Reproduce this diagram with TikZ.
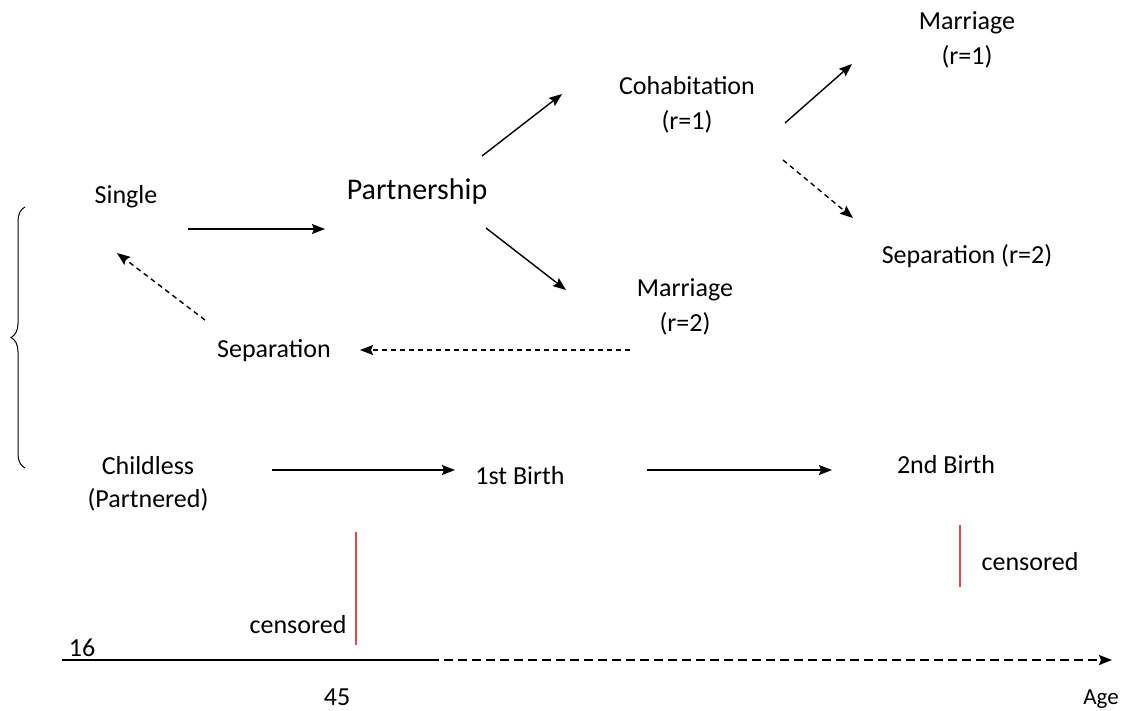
\documentclass[tikz,border=0pt]{standalone}
\usepackage{fontspec}
\setmainfont{Carlito}
\usetikzlibrary{arrows.meta,decorations.pathreplacing}
\definecolor{censred}{RGB}{214,80,80}
\begin{document}
\begin{tikzpicture}[x=1pt, y=-1pt,
		lbl/.style={inner sep=0pt, align=center, font=\fontsize{26}{35}\selectfont},
		arr/.style={line width=1.4pt, -{Stealth[length=13pt,width=10pt,inset=2pt]}},
		darr/.style={arr, dash pattern=on 5pt off 4pt},
		cens/.style={censred, line width=1.2pt}]
		\useasboundingbox (0,0) rectangle (1126,710);
		%States of the partnership history
		\node[lbl] (Single) at (126,197) {Single};
		\node[lbl, font=\fontsize{30}{36}\selectfont] (Partner) at (417,191) {Partnership};
		\node[lbl] (Cohab) at (687,105) {Cohabitation\\(r=1)};
		\node[lbl] (Marr1) at (967,40) {Marriage\\(r=1)};
		\node[lbl] (Sep2) at (967,256) {Separation (r=2)};
		\node[lbl] (Marr2) at (685,307) {Marriage\\(r=2)};
		\node[lbl] (Sep) at (274,351) {Separation};
		%Fertility history
		\node[lbl, font=\fontsize{26}{33}\selectfont] (Child0) at (148,484) {Childless\\(Partnered)};
		\node[lbl] (Birth1) at (520,476) {1st Birth};
		\node[lbl] (Birth2) at (946,465) {2nd Birth};
		%Time axis
		\node[lbl] (C45) at (298,625) {censored};
		\node[lbl] (Cend) at (1030,562) {censored};
		\node[lbl] (A16) at (82,648) {16};
		\node[lbl] (A45) at (337,697) {45};
		\node[lbl, font=\fontsize{23}{28}\selectfont] (Age) at (1101,699) {Age};
		\coordinate (AxStart) at (62,660);
		\coordinate (AxMid) at (430,660);
		\coordinate (AxEnd) at (1112,660);
		\coordinate (BrTop) at (25,207);
		\coordinate (BrBot) at (25,468);
		%Transitions
		\draw[arr] ([xshift=62pt,yshift=-32pt]Single.center) -- ([xshift=-92pt,yshift=-38pt]Partner.center);
		\draw[arr] ([xshift=65pt,yshift=35pt]Partner.center) -- ([xshift=-125pt,yshift=11pt]Cohab.center);
		\draw[arr] ([xshift=69pt,yshift=-37pt]Partner.center) -- ([xshift=-119pt,yshift=17pt]Marr2.center);
		\draw[arr] ([xshift=98pt,yshift=-18pt]Cohab.center) -- ([xshift=-115pt,yshift=-24pt]Marr1.center);
		\draw[darr] ([xshift=96pt,yshift=-55pt]Cohab.center) -- ([xshift=-114pt,yshift=38pt]Sep2.center);
		\draw[darr] ([xshift=-55pt,yshift=-43pt]Marr2.center) -- ([xshift=86pt,yshift=1pt]Sep.center);
		\draw[darr] ([xshift=-69pt,yshift=31pt]Sep.center) -- ([xshift=-9pt,yshift=-56pt]Single.center);
		\draw[arr] ([xshift=124pt,yshift=14pt]Child0.center) -- ([xshift=-65pt,yshift=6pt]Birth1.center);
		\draw[arr] ([xshift=127pt,yshift=6pt]Birth1.center) -- ([xshift=-114pt,yshift=-5pt]Birth2.center);
		%Censoring marks and axis
		\draw[cens] ([xshift=58pt,yshift=93pt]C45.center) -- ([xshift=58pt,yshift=-20pt]C45.center);
		\draw[cens] ([xshift=-70pt,yshift=37pt]Cend.center) -- ([xshift=-70pt,yshift=-25pt]Cend.center);
		\draw[line width=1.4pt] (AxStart) -- (AxMid);
		\draw[arr, dash pattern=on 9pt off 5pt] (AxMid) -- (AxEnd);
		\draw[line width=1pt, decorate, decoration={brace, amplitude=14pt}] (BrBot) -- (BrTop);
	\end{tikzpicture}
\end{document}
